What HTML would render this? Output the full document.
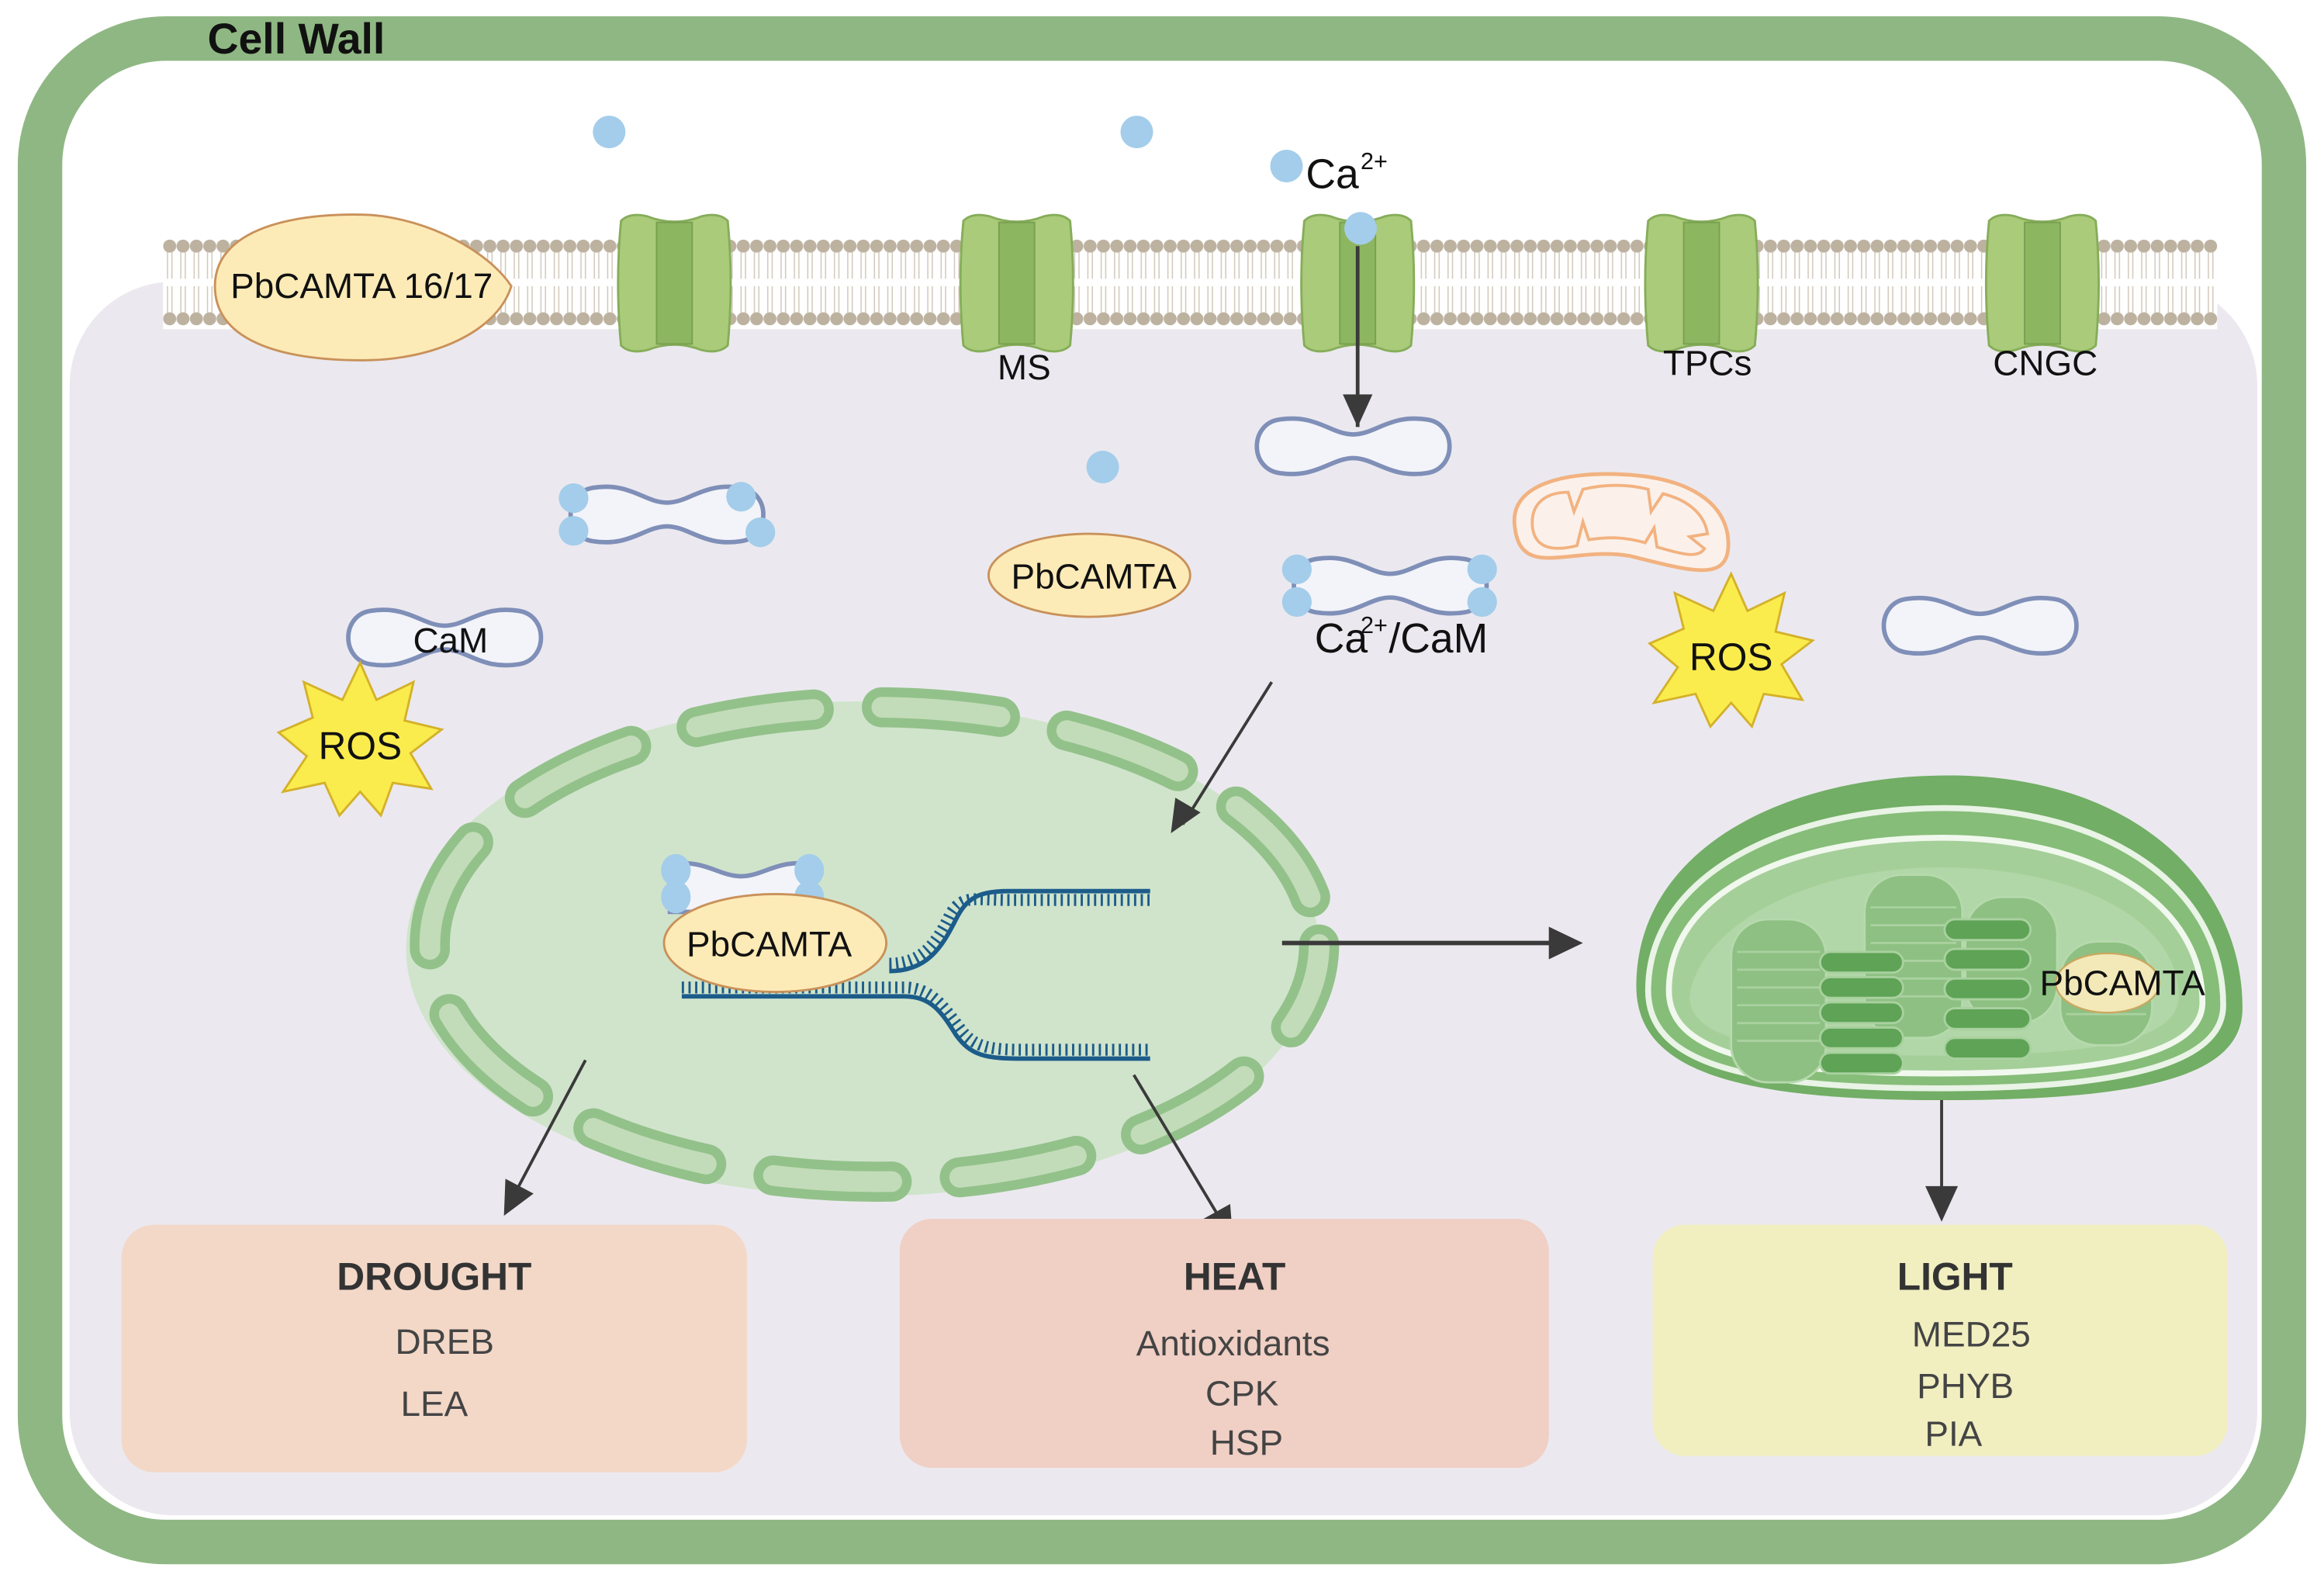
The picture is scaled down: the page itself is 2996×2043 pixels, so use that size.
<!DOCTYPE html>
<html><head><meta charset="utf-8"><style>
html,body{margin:0;padding:0;background:#fff}
svg{display:block}
text{font-family:"Liberation Sans",sans-serif}
</style></head><body>
<svg width="2996" height="2043" viewBox="0 0 1568 1069" preserveAspectRatio="none" xmlns="http://www.w3.org/2000/svg">
<defs>
<path id="cam" d="M-50,-18 C-25,-22 -15,-8 0,-8 C15,-8 25,-22 50,-18 C70,-15 70,15 50,18 C25,22 15,8 0,8 C-15,8 -25,22 -50,18 C-70,15 -70,-15 -50,-18Z" fill="#f3f4f9" stroke="#7f8fb8" stroke-width="3"/>
<pattern id="lip" x="110" y="0" width="9" height="1069" patternUnits="userSpaceOnUse">
<circle cx="4.5" cy="166" r="4.4" fill="#bdb2a0"/><circle cx="4.5" cy="215" r="4.4" fill="#bdb2a0"/>
<line x1="3" y1="170" x2="3" y2="188" stroke="#d2c9bb" stroke-width="0.8"/><line x1="6" y1="170" x2="6" y2="188" stroke="#d2c9bb" stroke-width="0.8"/>
<line x1="3" y1="193" x2="3" y2="211" stroke="#d2c9bb" stroke-width="0.8"/><line x1="6" y1="193" x2="6" y2="211" stroke="#d2c9bb" stroke-width="0.8"/>
</pattern>
<g id="chan">
<path d="M-36,-42 Q-30,-48 -18,-45 Q0,-38 18,-45 Q30,-48 36,-42 Q40,0 36,42 Q30,48 18,45 Q0,38 -18,45 Q-30,48 -36,42 Q-40,0 -36,-42Z" fill="#aacb79" stroke="#86ad5a" stroke-width="1.5"/>
<path d="M-12,-41 L12,-41 L12,41 L-12,41Z" fill="#8db660" stroke="#78a050" stroke-width="1"/>
</g>
</defs>
<rect width="1568" height="1069" fill="#fff"/>
<rect x="27" y="26" width="1514" height="1014" rx="85" fill="#fff" stroke="#8fb783" stroke-width="30"/>
<text x="140" y="36" font-size="29" font-weight="bold" fill="#111">Cell Wall</text>
<rect x="47" y="190" width="1476" height="832" rx="70" fill="#ebe9ef"/>
<rect x="110" y="160" width="1386" height="62" fill="#fff"/>
<rect x="110" y="160" width="1386" height="62" fill="url(#lip)"/>
<use href="#chan" x="455" y="191"/><use href="#chan" x="686" y="191"/><use href="#chan" x="916" y="191"/><use href="#chan" x="1148" y="191"/><use href="#chan" x="1378" y="191"/>
<path d="M145,193 C145,150 210,143 250,145 C290,148 330,170 345,193 C335,225 290,243 245,243 C190,243 145,230 145,193Z" fill="#fdebb7" stroke="#c9915a" stroke-width="1.5"/>
<text x="244" y="201" font-size="24" text-anchor="middle" fill="#111">PbCAMTA 16/17</text>
<text x="691" y="256" font-size="24" text-anchor="middle" fill="#111">MS</text>
<text x="1152" y="253" font-size="24" text-anchor="middle" fill="#111">TPCs</text>
<text x="1380" y="253" font-size="24" text-anchor="middle" fill="#111">CNGC</text>
<g fill="#a3cdea"><circle cx="411" cy="89" r="11"/><circle cx="767" cy="89" r="11"/><circle cx="868" cy="112" r="11"/><circle cx="918" cy="154" r="11"/><circle cx="744" cy="315" r="11"/></g>
<text x="881" y="127" font-size="28" fill="#111">Ca</text><text x="918" y="114" font-size="16" fill="#111">2+</text>
<line x1="916" y1="166" x2="916" y2="288" stroke="#3a3a3a" stroke-width="2.5"/>
<path d="M906,266 L926,266 L916,288Z" fill="#3a3a3a"/>
<use href="#cam" x="913" y="301"/>
<use href="#cam" x="300" y="430"/>
<text x="304" y="440" font-size="24" text-anchor="middle" fill="#111">CaM</text>
<use href="#cam" x="1336" y="422"/>
<g transform="translate(450,347)"><use href="#cam"/><g fill="#a3cdea"><ellipse cx="-63" cy="-11" rx="10" ry="10"/><ellipse cx="-63" cy="11" rx="10" ry="10"/><ellipse cx="50" cy="-12" rx="10" ry="10"/><ellipse cx="63" cy="12" rx="10" ry="10"/></g></g>
<g transform="translate(938,395)"><use href="#cam"/><g fill="#a3cdea"><ellipse cx="-63" cy="-11" rx="10" ry="10"/><ellipse cx="-63" cy="11" rx="10" ry="10"/><ellipse cx="62" cy="-11" rx="10" ry="10"/><ellipse cx="62" cy="11" rx="10" ry="10"/></g></g>
<text x="887" y="440" font-size="28" fill="#111">Ca</text><text x="918" y="427" font-size="16" fill="#111">2+</text><text x="937" y="440" font-size="28" fill="#111">/CaM</text>
<ellipse cx="735" cy="388" rx="68" ry="28" fill="#fdebb7" stroke="#c9915a" stroke-width="1.5"/>
<text x="738" y="397" font-size="24" text-anchor="middle" fill="#111">PbCAMTA</text>
<path d="M1022,355 C1018,325 1060,318 1095,320 C1140,322 1168,340 1166,370 C1164,392 1140,385 1100,375 C1060,368 1026,392 1022,355Z" fill="#fbf1ea" stroke="#f2b280" stroke-width="2.5"/>
<path d="M1034,356 C1032,338 1045,332 1058,332 L1062,345 L1068,330 C1085,326 1100,327 1112,330 L1114,345 L1122,333 C1138,337 1150,346 1152,360 L1140,362 L1150,370 C1145,378 1130,372 1118,369 L1116,356 L1110,366 C1095,362 1085,362 1072,364 L1068,352 L1064,368 C1048,372 1036,370 1034,356Z" fill="none" stroke="#f2b280" stroke-width="2"/>
<polygon transform="translate(243,502)" points="0,-55 11,-30 36,-42 30,-16 55,-10 34,6 48,30 22,26 14,48 0,32 -14,48 -24,26 -52,32 -36,8 -55,-8 -32,-18 -38,-42 -12,-30" fill="#fbec4d" stroke="#d4b12a" stroke-width="1.5"/>
<polygon transform="translate(1168,442)" points="0,-55 11,-30 36,-42 30,-16 55,-10 34,6 48,30 22,26 14,48 0,32 -14,48 -24,26 -52,32 -36,8 -55,-8 -32,-18 -38,-42 -12,-30" fill="#fbec4d" stroke="#d4b12a" stroke-width="1.5"/>
<text x="243" y="512" font-size="26" text-anchor="middle" fill="#111">ROS</text>
<text x="1168" y="452" font-size="26" text-anchor="middle" fill="#111">ROS</text>
<ellipse cx="582" cy="640" rx="308" ry="167" fill="#d0e4cc"/>
<ellipse cx="590" cy="637" rx="300" ry="160" fill="none" stroke="#93c18a" stroke-width="27" stroke-linecap="round" stroke-dasharray="80 46" stroke-dashoffset="20"/>
<ellipse cx="590" cy="637" rx="300" ry="160" fill="none" stroke="#c2dcb9" stroke-width="14" stroke-linecap="round" stroke-dasharray="80 46" stroke-dashoffset="20"/>
<path d="M600,655 C625,655 635,640 645,620 C652,606 660,601 680,601 L776,601" fill="none" stroke="#1c5c8a" stroke-width="3"/>
<path d="M600,650 C622,650 632,636 641,617 C649,603 657,607 680,607 L776,607" fill="none" stroke="#1c5c8a" stroke-width="8" stroke-dasharray="1.5 3"/>
<path d="M460,672 L610,672 C628,672 635,682 645,698 C655,712 665,714 690,714 L776,714" fill="none" stroke="#1c5c8a" stroke-width="3"/>
<path d="M460,666 L610,666 C628,666 636,678 648,694 C657,706 667,708 690,708 L776,708" fill="none" stroke="#1c5c8a" stroke-width="8" stroke-dasharray="1.5 3"/>
<g transform="translate(500,595)"><path d="M-48,-12 C-25,-16 -15,-4 0,-4 C15,-4 25,-16 48,-12 L48,20 L-48,20Z" fill="#f3f4f9" stroke="#7f8fb8" stroke-width="3"/><g fill="#a3cdea"><ellipse cx="-44" cy="-8" rx="10" ry="11"/><ellipse cx="-44" cy="10" rx="10" ry="11"/><ellipse cx="46" cy="-8" rx="10" ry="11"/><ellipse cx="46" cy="10" rx="10" ry="11"/></g></g>
<ellipse cx="523" cy="636" rx="75" ry="33" fill="#fdebb7" stroke="#c9915a" stroke-width="1.5"/>
<text x="519" y="645" font-size="24" text-anchor="middle" fill="#111">PbCAMTA</text>
<line x1="858" y1="460" x2="798" y2="556" stroke="#3a3a3a" stroke-width="2"/>
<path d="M790,562 L793,538 L810,548Z" fill="#3a3a3a"/>
<line x1="865" y1="636" x2="1048" y2="636" stroke="#3a3a3a" stroke-width="3"/>
<path d="M1068,636 L1045,625 L1045,647Z" fill="#3a3a3a"/>
<line x1="395" y1="715" x2="350" y2="800" stroke="#3a3a3a" stroke-width="2"/>
<path d="M340,820 L341,795 L360,805Z" fill="#3a3a3a"/>
<line x1="765" y1="725" x2="822" y2="820" stroke="#3a3a3a" stroke-width="2"/>
<path d="M832,838 L812,822 L830,812Z" fill="#3a3a3a"/>
<line x1="1310" y1="722" x2="1310" y2="802" stroke="#3a3a3a" stroke-width="2"/>
<path d="M1310,824 L1299,800 L1321,800Z" fill="#3a3a3a"/>
<path d="M1104,665 C1104,575 1200,523 1315,523 C1440,523 1513,595 1513,680 C1513,725 1450,742 1310,742 C1165,742 1104,720 1104,665Z" fill="#72ae65"/>
<path d="M1112,668 C1112,590 1205,545 1312,545 C1425,545 1500,600 1500,678 C1500,715 1440,734 1310,734 C1170,734 1112,715 1112,668Z" fill="#86bd79" stroke="#e9f3e6" stroke-width="4"/>
<path d="M1126,668 C1126,600 1210,565 1310,565 C1415,565 1486,610 1486,676 C1486,708 1430,724 1310,724 C1180,724 1126,708 1126,668Z" fill="#a5cf99" stroke="#f1f8ee" stroke-width="4"/>
<path d="M1140,672 C1145,630 1210,585 1310,585 C1400,585 1470,620 1470,672 C1470,700 1420,712 1310,712 C1185,712 1140,700 1140,672Z" fill="#b4d7aa" opacity="0.8"/>
<g fill="#8dc082" stroke="#b6d9ad" stroke-width="1.5">
<rect x="1168" y="620" width="64" height="110" rx="25"/>
<rect x="1258" y="590" width="66" height="110" rx="25"/>
<rect x="1326" y="605" width="62" height="85" rx="25"/>
<rect x="1390" y="635" width="62" height="70" rx="25"/>
</g>
<g stroke="#a9d19f" stroke-width="1.5" fill="none">
<path d="M1172,642 h56 M1172,654 h56 M1172,666 h56 M1172,678 h56 M1172,690 h56 M1172,702 h56 M1262,612 h58 M1262,624 h58 M1262,636 h58 M1262,648 h58 M1262,660 h58 M1262,672 h58 M1394,660 h54 M1394,672 h54 M1394,684 h54"/>
</g>
<g fill="#5fa356" stroke="#a9d19f" stroke-width="1.5">
<rect x="1228" y="642" width="56" height="14" rx="7"/><rect x="1228" y="659" width="56" height="14" rx="7"/><rect x="1228" y="676" width="56" height="14" rx="7"/><rect x="1228" y="693" width="56" height="14" rx="7"/><rect x="1228" y="710" width="56" height="14" rx="7"/>
<rect x="1312" y="620" width="58" height="14" rx="7"/><rect x="1312" y="640" width="58" height="14" rx="7"/><rect x="1312" y="660" width="58" height="14" rx="7"/><rect x="1312" y="680" width="58" height="14" rx="7"/><rect x="1312" y="700" width="58" height="14" rx="7"/>
</g>
<ellipse cx="1422" cy="663" rx="35" ry="20" fill="#f2e8b8" stroke="#c9a860" stroke-width="1.2"/>
<text x="1432" y="671" font-size="24" text-anchor="middle" fill="#111">PbCAMTA</text>
<rect x="82" y="826" width="422" height="167" rx="22" fill="#f3d8c8"/>
<text x="293" y="870" font-size="26" font-weight="bold" text-anchor="middle" fill="#333">DROUGHT</text>
<text x="300" y="913" font-size="24" text-anchor="middle" fill="#444">DREB</text>
<text x="293" y="955" font-size="24" text-anchor="middle" fill="#444">LEA</text>
<rect x="607" y="822" width="438" height="168" rx="22" fill="#f0cfc4"/>
<text x="833" y="870" font-size="26" font-weight="bold" text-anchor="middle" fill="#333">HEAT</text>
<text x="832" y="914" font-size="24" text-anchor="middle" fill="#444">Antioxidants</text>
<text x="838" y="948" font-size="24" text-anchor="middle" fill="#444">CPK</text>
<text x="841" y="981" font-size="24" text-anchor="middle" fill="#444">HSP</text>
<rect x="1115" y="826" width="388" height="156" rx="22" fill="#f1eec0"/>
<text x="1319" y="870" font-size="26" font-weight="bold" text-anchor="middle" fill="#333">LIGHT</text>
<text x="1330" y="908" font-size="24" text-anchor="middle" fill="#444">MED25</text>
<text x="1326" y="943" font-size="24" text-anchor="middle" fill="#444">PHYB</text>
<text x="1318" y="975" font-size="24" text-anchor="middle" fill="#444">PIA</text>
</svg>
</body></html>
